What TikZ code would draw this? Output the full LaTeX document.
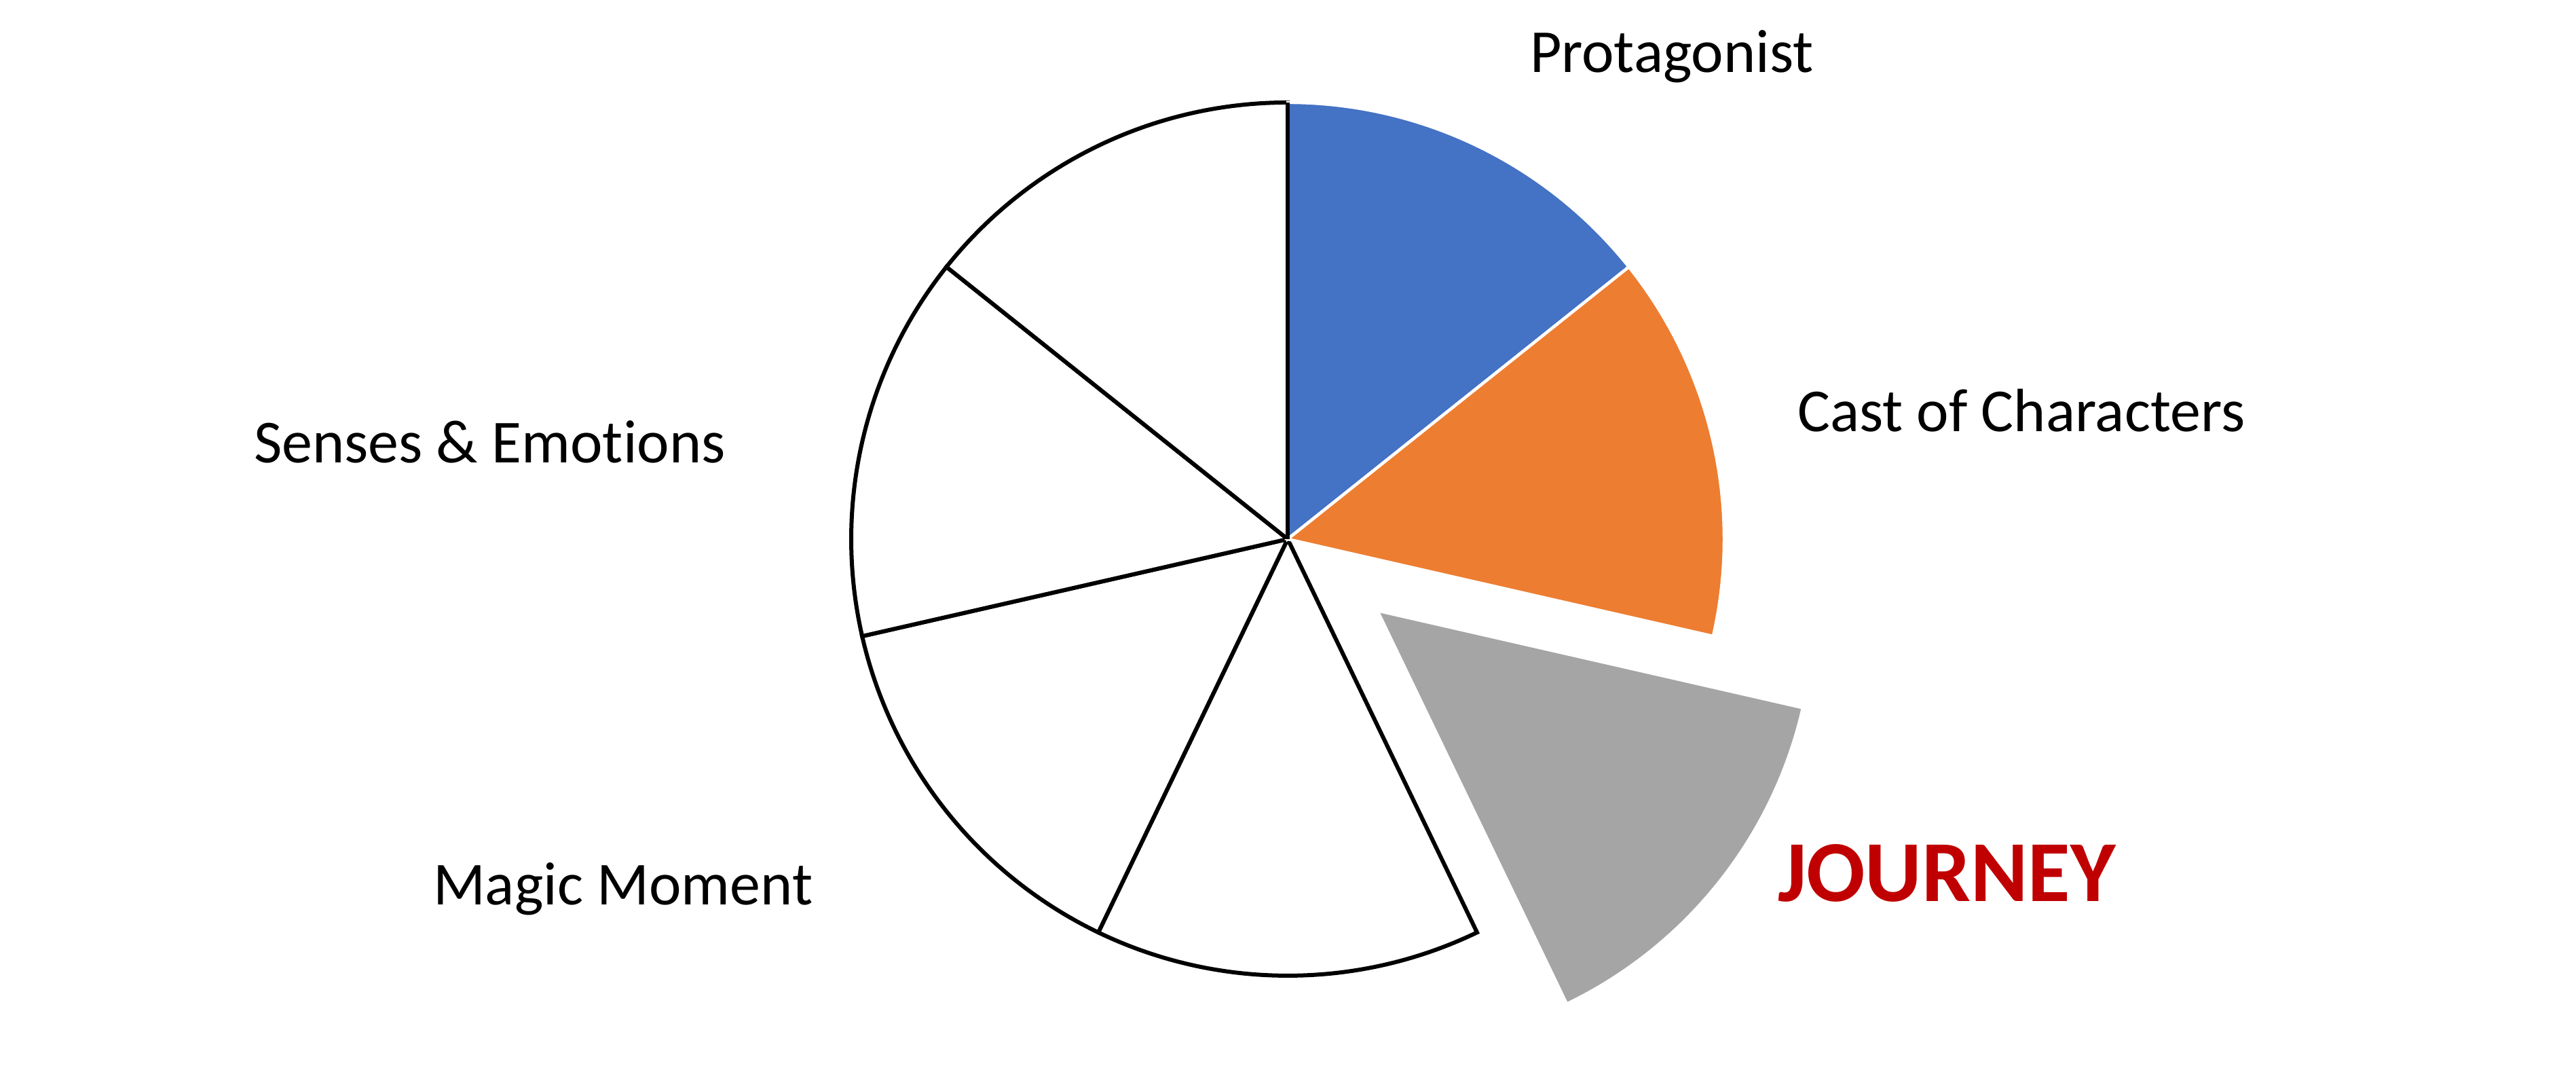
\documentclass[tikz,border=0pt]{standalone}
\usepackage{fontspec}
\setmainfont{Carlito}[Ligatures=NoCommon]
\usetikzlibrary{calc}
\definecolor{pieblue}{HTML}{4472C4}
\definecolor{pieorange}{HTML}{ED7D31}
\definecolor{piegray}{HTML}{A5A5A5}
\definecolor{piered}{HTML}{C00000}
\begin{document}
\begin{tikzpicture}[
  colslice/.style={draw=white, line width=0.45pt, line join=miter},
  plainslice/.style={draw=black, fill=white, line width=0.6pt, line join=miter},
  lab/.style={inner sep=0pt, anchor=base west, font=\fontsize{9pt}{11pt}\selectfont},
  jlab/.style={inner sep=0pt, anchor=base west, text=piered, font=\fontsize{12.8pt}{15pt}\selectfont\bfseries}
]
\useasboundingbox (0pt,0pt) rectangle (379.5pt,159.5pt);
\def\R{64.3pt}
\coordinate (c) at (189.7pt,80.1pt);
\coordinate (cg) at ($(c)+(-38.571:16.9pt)$);
% white slices
\path[plainslice] (c) -- ++(-64.286:\R) arc[start angle=-64.286, end angle=-115.714, radius=\R] -- cycle;
\path[plainslice] (c) -- ++(-115.714:\R) arc[start angle=-115.714, end angle=-167.143, radius=\R] -- cycle;
\path[plainslice] (c) -- ++(192.857:\R) arc[start angle=192.857, end angle=141.429, radius=\R] -- cycle;
\path[plainslice] (c) -- ++(141.429:\R) arc[start angle=141.429, end angle=90, radius=\R] -- cycle;
% coloured slices
\path[colslice, fill=pieblue] (c) -- ++(90:\R) arc[start angle=90, end angle=38.571, radius=\R] -- cycle;
\path[colslice, fill=pieorange] (c) -- ++(38.571:\R) arc[start angle=38.571, end angle=-12.857, radius=\R] -- cycle;
\path[colslice, fill=piegray] (cg) -- ++(-12.857:\R) arc[start angle=-12.857, end angle=-64.286, radius=\R] -- cycle;
% black edge on top of the blue slice
\draw[line width=0.6pt] (c) -- ++(90:\R);
% labels
\node[lab] (prot) at (225.2pt,148.8pt) {Protagonist};
\node[lab] (cast) at (264.6pt,95.9pt) {Cast of Characters};
\node[lab] (sens) at (37.2pt,91.3pt) {Senses \& Emotions};
\node[lab] (magic) at (63.6pt,26.2pt) {Magic Moment};
\node[jlab] (jour) at (261.7pt,26.7pt) {JOURNEY};
\end{tikzpicture}
\end{document}
